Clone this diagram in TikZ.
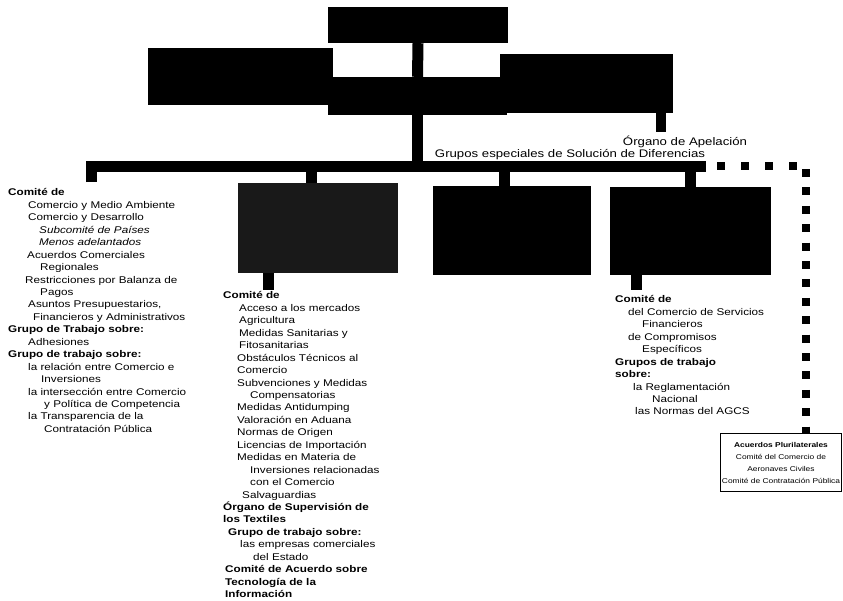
\documentclass[tikz,border=0pt]{standalone}
\usepackage{fontspec}
\setmainfont[FakeStretch=1.2]{Liberation Sans}
\usetikzlibrary{positioning}

\begin{document}
\begin{tikzpicture}[
    x=1pt, y=-1pt,
    blackbox/.style={rectangle, fill=black, inner sep=0pt},
    bar/.style={line width=11pt},
    dotbar/.style={line width=8pt, dash pattern=on 8pt off 16pt},
    dotcol/.style={line width=8pt, dash pattern=on 8pt off 10.4pt},
    listtext/.style={anchor=north west, align=left, inner sep=0pt, font=\fontsize{9.75}{12.45}\selectfont},
    labeltext/.style={inner sep=0pt, font=\fontsize{11}{13}\selectfont}
]
\useasboundingbox (0,0) rectangle (843,600);

\node[blackbox, minimum width=180pt, minimum height=36pt] (conf) at (418,25) {};
\node[blackbox, minimum width=185pt, minimum height=57pt] (cgA) at (240.5,76.5) {};
\node[blackbox, minimum width=179pt, minimum height=38pt] (cg) at (417.5,96) {};
\node[blackbox, minimum width=173pt, minimum height=59pt] (cgB) at (586.5,83.5) {};

\node[blackbox, fill=black!90, minimum width=160pt, minimum height=90pt] (cmerc) at (318,228) {};
\node[blackbox, minimum width=158pt, minimum height=89pt] (cadpic) at (512,230.5) {};
\node[blackbox, minimum width=161pt, minimum height=88pt] (cserv) at (690.5,231) {};

\coordinate (barL) at (91,166);
\coordinate (barR) at (706,166);
\coordinate (dropL) at (91,182);
\coordinate (t1) at (311,166);
\coordinate (t2) at (504,166);
\coordinate (t3) at (690,166);
\coordinate (u1) at (268,290);
\coordinate (u3) at (636,290);
\coordinate (apel) at (661,132);

\draw[bar] (conf.south) -- (cg.north);
\draw[bar] (cg.south) -- (cg.south |- barR);
\draw[bar] (dropL) -- (barL) -- (barR);
\draw[bar] (t1) -- (t1 |- cmerc.north);
\draw[bar] (t2) -- (t2 |- cadpic.north);
\draw[bar] (t3) -- (t3 |- cserv.north);
\draw[bar] (u1 |- cmerc.south) -- (u1);
\draw[bar] (u3 |- cserv.south) -- (u3);
\draw[line width=10pt] (apel |- cgB.south) -- (apel);

\node[labeltext] (organo) at (685,142) {Órgano de Apelación};
\node[labeltext] (grupos) at (570,155) {Grupos especiales de Solución de Diferencias};

\node[draw, line width=1pt, align=center, inner xsep=1pt, minimum width=121pt, minimum height=58pt, anchor=north, font=\fontsize{7}{12}\selectfont] (plural) at (781,433)
    {\textbf{Acuerdos Plurilaterales}\\Comité del Comercio de\\Aeronaves Civiles\\Comité de Contratación Pública};

\draw[dotbar] (717,166) -- (800,166);
\draw[dotcol] (806,169) -- (plural.north -| 806,0);

\node[listtext] (colA) at (8,188.5) {\textbf{Comité de}\\
    \hspace*{20pt}Comercio y Medio Ambiente\\
    \hspace*{20pt}Comercio y Desarrollo\\
    \hspace*{31pt}\textit{Subcomité de Países}\\
    \hspace*{31pt}\textit{Menos adelantados}\\
    \hspace*{19pt}Acuerdos Comerciales\\
    \hspace*{32pt}Regionales\\
    \hspace*{17pt}Restricciones por Balanza de\\
    \hspace*{32pt}Pagos\\
    \hspace*{20pt}Asuntos Presupuestarios,\\
    \hspace*{25pt}Financieros y Administrativos\\
    \textbf{Grupo de Trabajo sobre:}\\
    \hspace*{20pt}Adhesiones\\
    \textbf{Grupo de trabajo sobre:}\\
    \hspace*{20pt}la relación entre Comercio e\\
    \hspace*{33pt}Inversiones\\
    \hspace*{20pt}la intersección entre Comercio\\
    \hspace*{36pt}y Política de Competencia\\
    \hspace*{20pt}la Transparencia de la\\
    \hspace*{36pt}Contratación Pública};

\node[listtext] (colB) at (223,291.5) {\textbf{Comité de}\\
    \hspace*{16pt}Acceso a los mercados\\
    \hspace*{16pt}Agricultura\\
    \hspace*{16pt}Medidas Sanitarias y\\
    \hspace*{16pt}Fitosanitarias\\
    \hspace*{14pt}Obstáculos Técnicos al\\
    \hspace*{14pt}Comercio\\
    \hspace*{14pt}Subvenciones y Medidas\\
    \hspace*{27pt}Compensatorias\\
    \hspace*{14pt}Medidas Antidumping\\
    \hspace*{14pt}Valoración en Aduana\\
    \hspace*{14pt}Normas de Origen\\
    \hspace*{14pt}Licencias de Importación\\
    \hspace*{14pt}Medidas en Materia de\\
    \hspace*{27pt}Inversiones relacionadas\\
    \hspace*{27pt}con el Comercio\\
    \hspace*{19pt}Salvaguardias\\
    \textbf{Órgano de Supervisión de}\\
    \textbf{los Textiles}\\
    \hspace*{5pt}\textbf{Grupo de trabajo sobre:}\\
    \hspace*{17pt}las empresas comerciales\\
    \hspace*{30pt}del Estado\\
    \hspace*{2pt}\textbf{Comité de Acuerdo sobre}\\
    \hspace*{2pt}\textbf{Tecnología de la}\\
    \hspace*{2pt}\textbf{Información}};

\node[listtext] (colC) at (615,295.5) {\textbf{Comité de}\\
    \hspace*{13pt}del Comercio de Servicios\\
    \hspace*{27pt}Financieros\\
    \hspace*{13pt}de Compromisos\\
    \hspace*{27pt}Específicos\\
    \textbf{Grupos de trabajo}\\
    \textbf{sobre:}\\
    \hspace*{18pt}la Reglamentación\\
    \hspace*{37pt}Nacional\\
    \hspace*{20pt}las Normas del AGCS};

\end{tikzpicture}
\end{document}
